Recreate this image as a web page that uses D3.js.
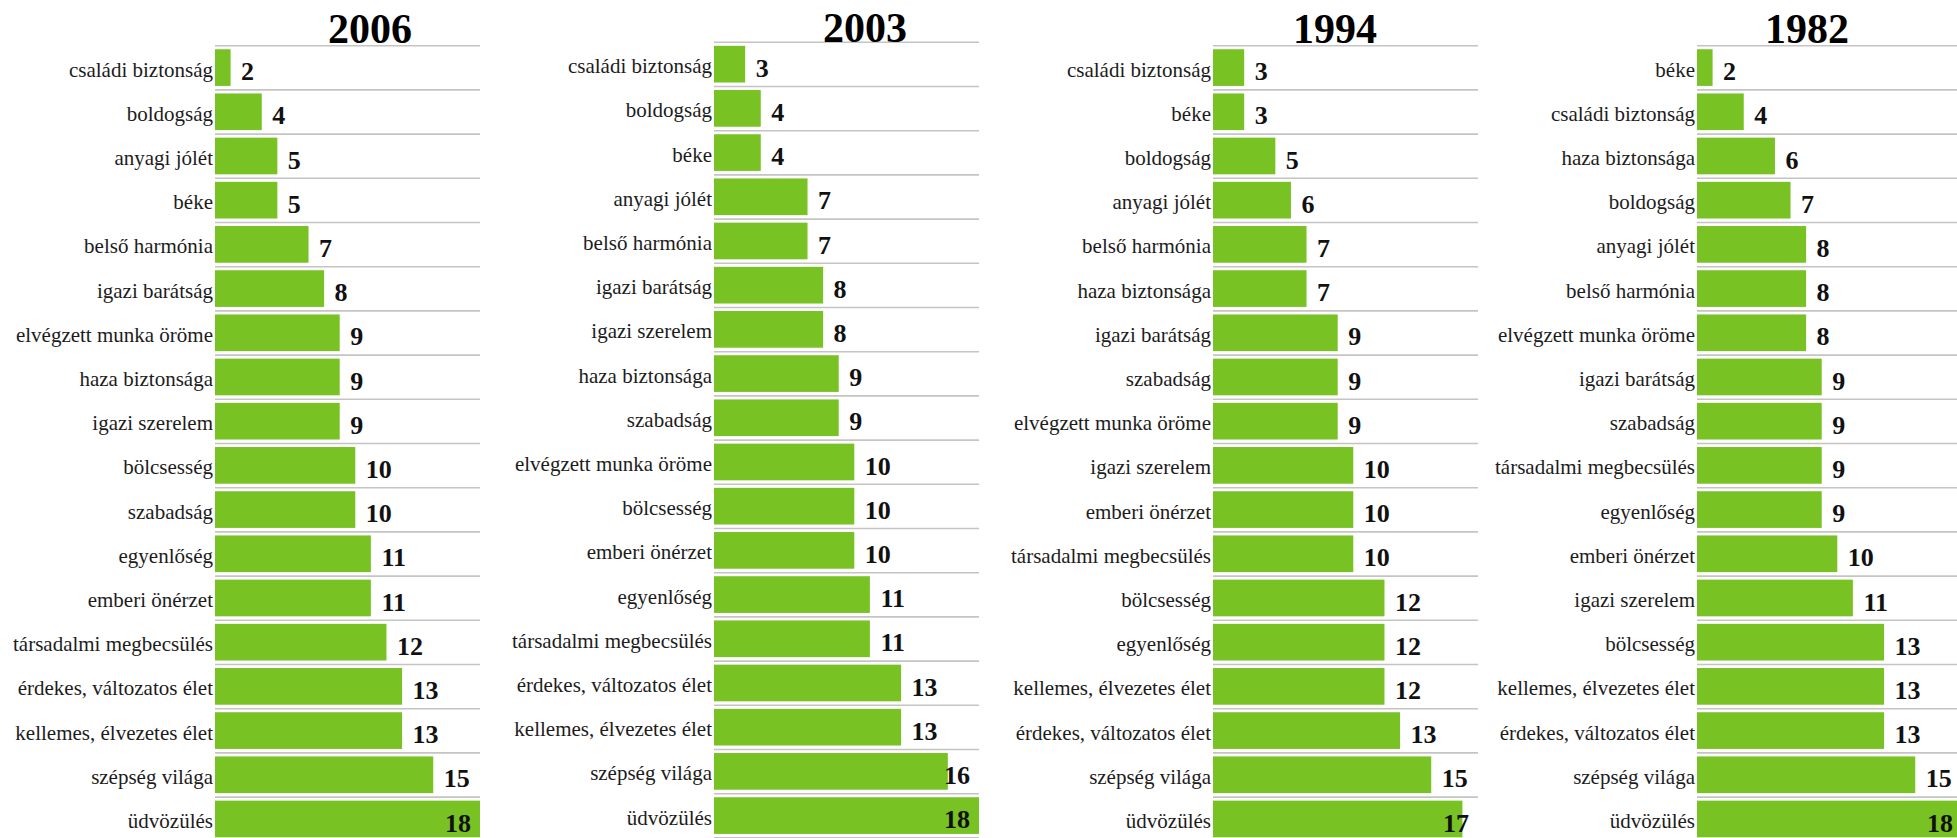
<!DOCTYPE html>
<html>
<head>
<meta charset="utf-8">
<script src="https://cdn.jsdelivr.net/npm/d3@7"></script>
<style>
  html, body { margin: 0; padding: 0; background: #fff; overflow: hidden; }
  svg { display: block; }
  .cat { font-family: "Liberation Serif", "Times New Roman", serif; font-size: 21px; fill: #1c1c1c; }
  .val { font-family: "Liberation Serif", "Times New Roman", serif; font-size: 26px; font-weight: bold; fill: #111; }
  .title { font-family: "Liberation Serif", "Times New Roman", serif; font-size: 42px; font-weight: bold; fill: #000; }
</style>
</head>
<body>
<svg id="chart" width="1957" height="838"></svg>
<script>
// ---------- data ----------
const years = ["2006", "2003", "1994", "1982"];

const categories2006 = ["családi biztonság", "boldogság", "anyagi jólét", "béke", "belső harmónia", "igazi barátság", "elvégzett munka öröme", "haza biztonsága", "igazi szerelem", "bölcsesség", "szabadság", "egyenlőség", "emberi önérzet", "társadalmi megbecsülés", "érdekes, változatos élet", "kellemes, élvezetes élet", "szépség világa", "üdvözülés"];
const values2006 = [2, 4, 5, 5, 7, 8, 9, 9, 9, 10, 10, 11, 11, 12, 13, 13, 15, 18];

const categories2003 = ["családi biztonság", "boldogság", "béke", "anyagi jólét", "belső harmónia", "igazi barátság", "igazi szerelem", "haza biztonsága", "szabadság", "elvégzett munka öröme", "bölcsesség", "emberi önérzet", "egyenlőség", "társadalmi megbecsülés", "érdekes, változatos élet", "kellemes, élvezetes élet", "szépség világa", "üdvözülés"];
const values2003 = [3, 4, 4, 7, 7, 8, 8, 9, 9, 10, 10, 10, 11, 11, 13, 13, 16, 18];

const categories1994 = ["családi biztonság", "béke", "boldogság", "anyagi jólét", "belső harmónia", "haza biztonsága", "igazi barátság", "szabadság", "elvégzett munka öröme", "igazi szerelem", "emberi önérzet", "társadalmi megbecsülés", "bölcsesség", "egyenlőség", "kellemes, élvezetes élet", "érdekes, változatos élet", "szépség világa", "üdvözülés"];
const values1994 = [3, 3, 5, 6, 7, 7, 9, 9, 9, 10, 10, 10, 12, 12, 12, 13, 15, 17];

const categories1982 = ["béke", "családi biztonság", "haza biztonsága", "boldogság", "anyagi jólét", "belső harmónia", "elvégzett munka öröme", "igazi barátság", "szabadság", "társadalmi megbecsülés", "egyenlőség", "emberi önérzet", "igazi szerelem", "bölcsesség", "kellemes, élvezetes élet", "érdekes, változatos élet", "szépség világa", "üdvözülés"];
const values1982 = [2, 4, 6, 7, 8, 8, 8, 9, 9, 9, 9, 10, 11, 13, 13, 13, 15, 18];

const panelCategories = [categories2006, categories2003, categories1994, categories1982];
const panelValues = [values2006, values2003, values1994, values1982];

// ---------- layout ----------
const panelLeft = [215, 714, 1213, 1697];
const panelTop = [45.7, 42.3, 45.7, 45.7];
const titleCenter = [370, 865, 1335, 1807];
const titleBaseline = [42.7, 41.7, 42.7, 42.7];
const plotWidth = 265;
const rowStep = 44.2;
const barColor = "#78c224";
const gridColor = "#c4c4c4";

const svg = d3.select("#chart");
const x = d3.scaleLinear().domain([1, 18]).range([0, plotWidth]);

years.forEach((yr, p) => {
  const cats = panelCategories[p];
  const vals = panelValues[p];
  const data = cats.map((c, i) => ({ cat: c, val: vals[i], idx: i }));

  const y = d3.scaleBand()
    .domain(d3.range(cats.length))
    .range([0, rowStep * cats.length])
    .paddingInner(0).paddingOuter(0);

  const g = svg.append("g").attr("transform", `translate(${panelLeft[p]},${panelTop[p]})`);

  // gridlines at the top of each row
  g.selectAll("line.grid")
    .data(d3.range(cats.length + 1))
    .join("line")
    .attr("class", "grid")
    .attr("x1", 0).attr("x2", plotWidth)
    .attr("y1", i => i * y.step()).attr("y2", i => i * y.step())
    .attr("stroke", gridColor).attr("stroke-width", 1.6);

  // bars
  g.selectAll("rect.bar")
    .data(data)
    .join("rect")
    .attr("class", "bar")
    .attr("x", 0)
    .attr("y", d => y(d.idx) + y.step() * 0.08)
    .attr("width", d => x(d.val))
    .attr("height", y.step() * 0.83)
    .attr("fill", barColor);

  // category labels
  g.selectAll("text.cat")
    .data(data)
    .join("text")
    .attr("class", "cat")
    .attr("x", -2)
    .attr("y", d => y(d.idx) + y.step() * 0.70)
    .attr("text-anchor", "end")
    .text(d => d.cat);

  // value labels
  g.selectAll("text.val")
    .data(data)
    .join("text")
    .attr("class", "val")
    .attr("x", d => Math.min(x(d.val) + 10.5, plotWidth - 35))
    .attr("y", d => y(d.idx) + y.step() * 0.78)
    .text(d => d.val);

  // title
  svg.append("text")
    .attr("class", "title")
    .attr("x", titleCenter[p])
    .attr("y", titleBaseline[p])
    .attr("text-anchor", "middle")
    .text(yr);
});
</script>
</body>
</html>
